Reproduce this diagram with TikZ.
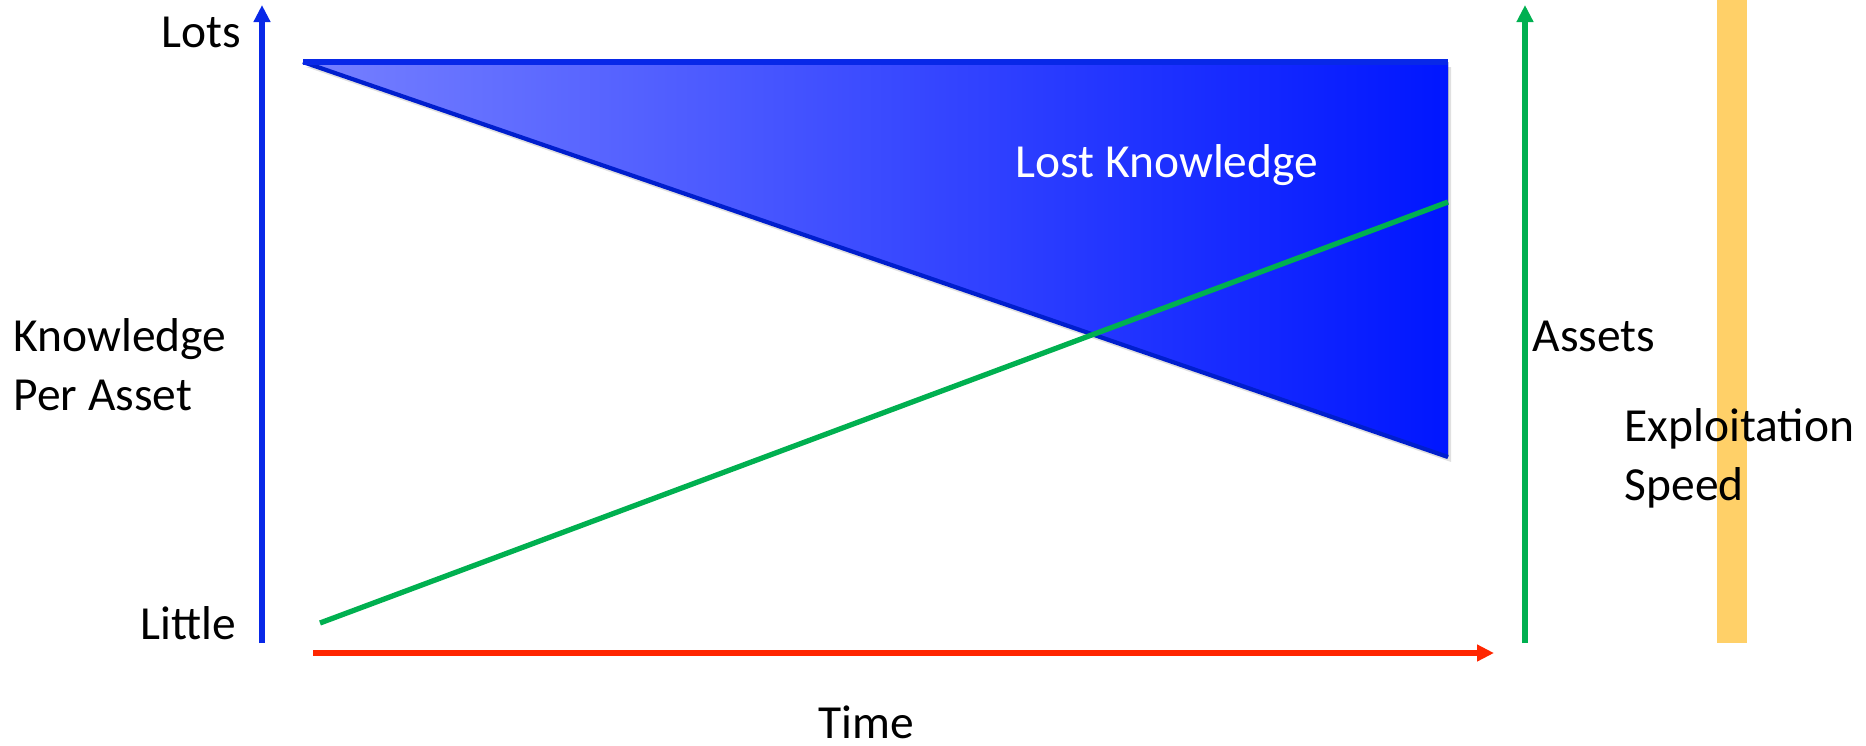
\documentclass[tikz,border=0pt]{standalone}
\usepackage{fontspec}
\setmainfont{Carlito}
\usetikzlibrary{arrows.meta}
\definecolor{axisblue}{RGB}{8,40,232}
\definecolor{edgeblue}{RGB}{0,30,205}
\definecolor{paleblue}{RGB}{118,128,255}
\definecolor{deepblue}{RGB}{0,22,255}
\definecolor{growgreen}{RGB}{0,176,80}
\definecolor{timered}{RGB}{255,38,0}
\definecolor{speedgold}{RGB}{255,208,104}

\begin{document}
\begin{tikzpicture}[x=0.01cm,y=-0.01cm,
    every node/.style={font=\fontsize{13.5}{16.5}\selectfont,inner sep=0pt},
    axisarrow/.style={line width=1.5pt,-{Triangle[length=0.17cm,width=0.16cm]}}]
        \useasboundingbox (0,0) rectangle (1866,745);
        \coordinate (kbot) at (262,643);
        \coordinate (ktop) at (262,5);
        \coordinate (tstart) at (313,653);
        \coordinate (tend) at (1494,653);
        \coordinate (abot) at (1525,643);
        \coordinate (atop) at (1525,5);
        \coordinate (lossA) at (303,62);
        \coordinate (lossB) at (1448,62);
        \coordinate (lossC) at (1448,457);
        \coordinate (grow0) at (320,623);
        \coordinate (grow1) at (1448,202);
        \fill[speedgold] (1717,0) rectangle (1747,643);
        \fill[black,opacity=0.12] ([shift={(3,5)}]lossA) -- ([shift={(3,5)}]lossB) -- ([shift={(3,5)}]lossC) -- cycle;
        \fill[left color=paleblue,right color=deepblue] (lossA) -- (lossB) -- (lossC) -- cycle;
        \draw[edgeblue,line width=1.2pt] (lossC) -- (lossA);
        \draw[axisblue,line width=1.5pt] (lossA) -- (lossB);
        \draw[growgreen,line width=1.5pt] (grow0) -- (grow1);
        \draw[axisarrow,axisblue] (kbot) -- (ktop);
        \draw[axisarrow,timered] (tstart) -- (tend);
        \draw[axisarrow,growgreen] (abot) -- (atop);
        \node[anchor=base east] (lots) at (242,47) {Lots};
        \node[anchor=base east] (little) at (237,639) {Little};
        \node[anchor=base west,align=left] (kpa) at (13,410) {Knowledge\\Per Asset};
        \node[anchor=base] (time) at (866,738) {Time};
        \node[anchor=base west,text=white] (lost) at (1015,177) {Lost Knowledge};
        \node[anchor=base west] (assets) at (1532,351) {Assets};
        \node[anchor=base west,align=left] (speed) at (1624,500) {Exploitation\\Speed};
\end{tikzpicture}
\end{document}
